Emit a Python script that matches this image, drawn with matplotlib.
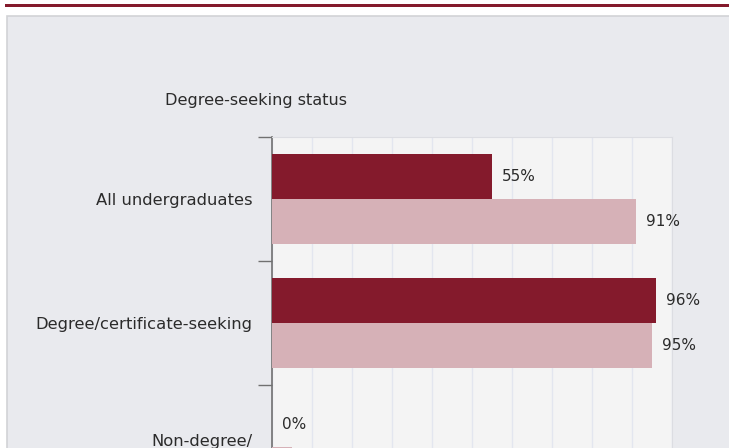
import matplotlib
matplotlib.use("Agg")
import matplotlib.pyplot as plt
from matplotlib.patches import Rectangle
import numpy as np

# Data
categories = ["All undergraduates", "Degree/certificate-seeking", "Non-degree/\ncertificate-seeking"]
institution = [55, 96, 0]
comparison = [91, 95, 5]
title = "Degree-seeking status"

dark_red = "#841a2c"
light_red = "#d6b1b7"
panel_bg = "#e9eaee"
plot_bg = "#f4f4f4"
grid_col = "#e3e6ef"
text_col = "#2b2b2b"

W, H = 729, 448
fig = plt.figure(figsize=(W / 100, H / 100), dpi=100)
fig.patch.set_facecolor("white")

# top accent bar and light panel behind the chart
fig.patches.append(Rectangle((5 / W, 1 - 7.5 / H), 1, 3.5 / H, transform=fig.transFigure,
                             facecolor=dark_red, edgecolor="none", zorder=-2))
fig.patches.append(Rectangle((7 / W, -0.1), 1, 1 - 16 / H + 0.1, transform=fig.transFigure,
                             facecolor=panel_bg, edgecolor="#d2d3d6", linewidth=1.2, zorder=-2))

fig.text(165 / W, 1 - 100 / H, title, fontsize=11.6, color=text_col, va="center", ha="left",
         family="DejaVu Sans")

# axes extend below the bottom edge, the reference is cropped there
top_px, band_px = 137, 124
left_px, right_px = 272, 672
bottom_px = top_px + band_px * len(categories)
ax = fig.add_axes([left_px / W, 1 - bottom_px / H, (right_px - left_px) / W, (bottom_px - top_px) / H])
ax.set_zorder(1)
ax.set_facecolor(plot_bg)

y = np.arange(len(categories))
bh = 45 / band_px
ax.barh(y - bh / 2, institution, height=bh, color=dark_red, edgecolor="none", zorder=3)
ax.barh(y + bh / 2, comparison, height=bh, color=light_red, edgecolor="none", zorder=3)

for i in range(len(categories)):
    ax.text(institution[i] + 2.5, y[i] - bh / 2, f"{institution[i]}%", va="center", ha="left",
            fontsize=11, color=text_col, zorder=4)
    ax.text(comparison[i] + 2.5, y[i] + bh / 2, f"{comparison[i]}%", va="center", ha="left",
            fontsize=11, color=text_col, zorder=4)

ax.set_xlim(0, 100)
ax.set_ylim(len(categories) - 0.5, -0.5)
ax.set_xticks(np.arange(0, 101, 10))
ax.tick_params(axis="x", length=0, labelbottom=False)
ax.grid(axis="x", color=grid_col, linewidth=1, zorder=0)

# category boundaries get tick marks, labels sit between them
ax.set_yticks(np.arange(-0.5, len(categories), 1))
ax.set_yticklabels([])
ax.tick_params(axis="y", which="major", length=10, width=1, color="#707070")
ax.set_yticks(y, minor=True)
ax.set_yticklabels(categories, minor=True, fontsize=11.8, color=text_col)
ax.tick_params(axis="y", which="minor", length=0, pad=14)
for lbl in ax.get_yticklabels(minor=True):
    lbl.set_linespacing(1.6)

ax.spines["left"].set_color("#707070")
ax.spines["left"].set_linewidth(1.2)
for s in ["top", "right"]:
    ax.spines[s].set_color("#dcdde2")
ax.spines["bottom"].set_visible(False)

fig.savefig("out.png", dpi=100)
